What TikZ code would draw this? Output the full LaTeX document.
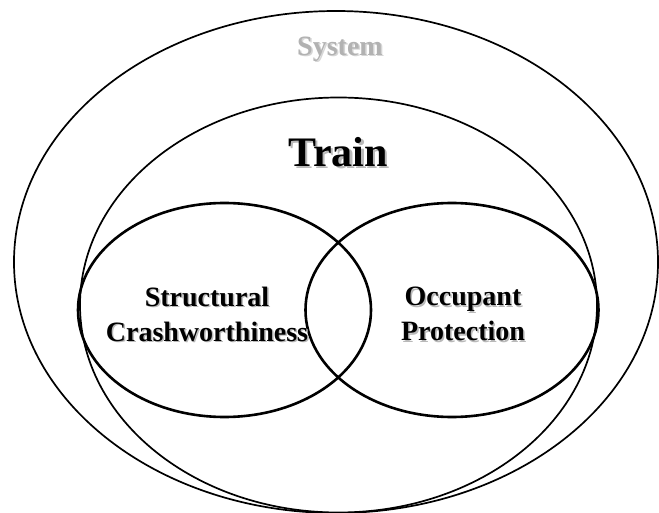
\documentclass[tikz,border=0pt]{standalone}
\usepackage{fontspec}
\setmainfont{Liberation Serif}
\usepackage{xcolor}
\usetikzlibrary{positioning}
\definecolor{SysGray}{RGB}{178,178,178}
\definecolor{SysShade}{RGB}{214,214,214}
\definecolor{ShadeGray}{RGB}{185,185,185}
% text with a soft drop shadow
\newcommand{\shtxt}[3][ShadeGray]{\rlap{\kern#2\raisebox{-#2}{\color{#1}#3}}#3}

\begin{document}
\begin{tikzpicture}[x=1pt,y=-1pt,
	thinring/.style={line width=1.7pt},
	thickring/.style={line width=2.6pt},
	lbl/.style={inner sep=0pt,align=center,font=\bfseries\fontsize{28}{35}\selectfont},
	biglbl/.style={inner sep=0pt,font=\bfseries\fontsize{42}{48}\selectfont}]
	\useasboundingbox (0,0) rectangle (659,513);
	\coordinate (sys) at (336,262);
	\coordinate (train) at (338.5,305);
	\coordinate (struct) at (224.5,310);
	\coordinate (occ) at (452,310);
	
	% system and train
	\draw[thinring] (sys) ellipse [x radius=322pt, y radius=251pt];
	\draw[thinring] (train) ellipse [x radius=258.5pt, y radius=207.5pt];
	
	% the two areas
	\draw[thickring] (struct) ellipse [x radius=146.5pt, y radius=107pt];
	\draw[thickring] (occ) ellipse [x radius=146.5pt, y radius=107pt];
	
	% labels
	\node[lbl,text=SysGray] (sysL) at (340,50) {\shtxt[SysShade]{1.5pt}{System}};
	\node[biglbl] (trainL) at (338,153) {\shtxt{2.5pt}{Train}};
	\node[lbl] (structL) at (207,315) {\shtxt{1.5pt}{Structural}\\\shtxt{1.5pt}{Crashworthiness}};
	\node[lbl] (occL) at (463,315) {\shtxt{1.5pt}{Occupant}\\\shtxt{1.5pt}{Protection}};
\end{tikzpicture}
\end{document}
